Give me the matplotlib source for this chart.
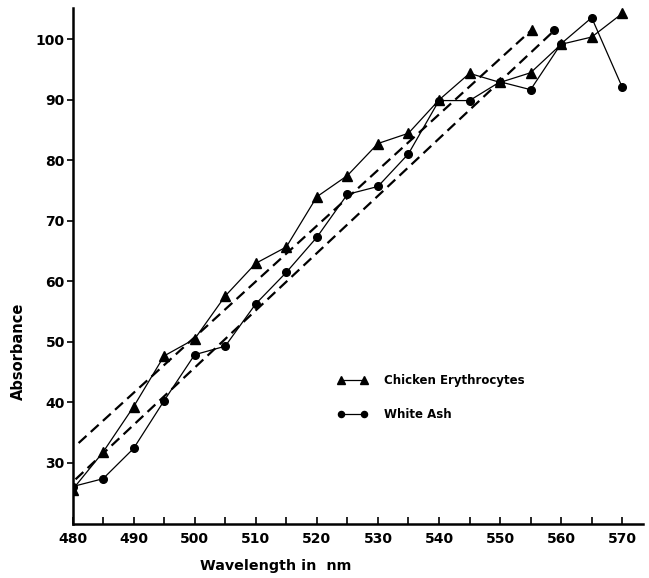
import matplotlib
matplotlib.use("Agg")
import matplotlib.pyplot as plt

# ---- data ----
wavelength = [480, 485, 490, 495, 500, 505, 510, 515, 520, 525,
              530, 535, 540, 545, 550, 555, 560, 565, 570]
chicken = [25.6, 31.8, 39.3, 47.7, 50.5, 57.6, 63.0, 65.7, 74.0, 77.5,
           82.8, 84.5, 90.0, 94.4, 92.9, 94.5, 99.2, 100.4, 104.3]
white_ash = [26.1, 27.4, 32.4, 40.3, 47.9, 49.3, 56.3, 61.5, 67.3, 74.4,
             75.7, 81.1, 89.9, 89.9, 93.0, 91.7, 99.3, 103.6, 92.1]

fit_chicken_x = [481.0, 555.2]
fit_chicken_y = [33.3, 101.6]
fit_ash_x = [480.5, 558.9]
fit_ash_y = [27.3, 101.5]

x_ticks_major = [480, 490, 500, 510, 520, 530, 540, 550, 560, 570]
x_ticks_minor = [485, 495, 505, 515, 525, 535, 545, 555, 565]
y_ticks = [30, 40, 50, 60, 70, 80, 90, 100]

series_labels = ["Chicken Erythrocytes", "White Ash"]

plt.rcParams['font.family'] = ['DejaVu Sans']

W, H = 649, 578
fig = plt.figure(figsize=(W / 100, H / 100), dpi=100)
ax = fig.add_axes([72.5 / W, 1 - 523.5 / H, (643 - 72.5) / W, (523.5 - 8) / H])

ax.set_xlim(480, 573.4)
ax.set_ylim(20, 105.2)

# data series
ax.plot(wavelength, chicken, color='black', lw=0.9, marker='^', ms=6.5,
        mec='black', mfc='black', label=series_labels[0], zorder=3)
ax.plot(wavelength, white_ash, color='black', lw=0.9, marker='o', ms=5.5,
        mec='black', mfc='black', label=series_labels[1], zorder=3)

# regression lines (dashed) with marker at end
l1, = ax.plot(fit_chicken_x, fit_chicken_y, color='black', lw=1.6, ls='--', zorder=2)
l1.set_dashes((4.8, 2.6))
ax.plot(fit_chicken_x[-1:], fit_chicken_y[-1:], ls='none', marker='^', ms=6.5,
        color='black', zorder=3)
l2, = ax.plot(fit_ash_x, fit_ash_y, color='black', lw=1.6, ls='--', zorder=2)
l2.set_dashes((4.8, 2.6))
ax.plot(fit_ash_x[-1:], fit_ash_y[-1:], ls='none', marker='o', ms=5.5,
        color='black', zorder=3)

# spines
for s in ['top', 'right']:
    ax.spines[s].set_visible(False)
for s in ['left', 'bottom']:
    ax.spines[s].set_linewidth(1.8)

ax.set_xticks(x_ticks_major)
ax.set_xticks(x_ticks_minor, minor=True)
ax.set_yticks(y_ticks)
ax.tick_params(axis='x', which='both', direction='in', length=5, width=1.2, pad=6,
               labelsize=10)
ax.tick_params(axis='y', direction='out', length=4, width=1.2, pad=1.5, labelsize=10)
for lab in ax.get_xticklabels() + ax.get_yticklabels():
    lab.set_fontweight('bold')

ax.set_xlabel("Wavelength in  nm", fontsize=10.3, fontweight='bold')
ax.xaxis.set_label_coords((276 - 72.5) / (643 - 72.5), -(559 - 523.5) / (523.5 - 8))
ax.set_ylabel("Absorbance", fontsize=10.5, fontweight='bold')
ax.yaxis.set_label_coords(-(72.5 - 25.5) / (643 - 72.5), (523.5 - 351) / (523.5 - 8))

leg = ax.legend(loc='upper left', bbox_to_anchor=(337 / W, 1 - 374 / H),
                bbox_transform=fig.transFigure, frameon=False, numpoints=2,
                handlelength=2.6, handletextpad=1.4, labelspacing=1.75,
                borderpad=0, borderaxespad=0, markerscale=0.8,
                prop={'size': 8.5, 'weight': 'bold'})

fig.savefig("out.png", dpi=100)
